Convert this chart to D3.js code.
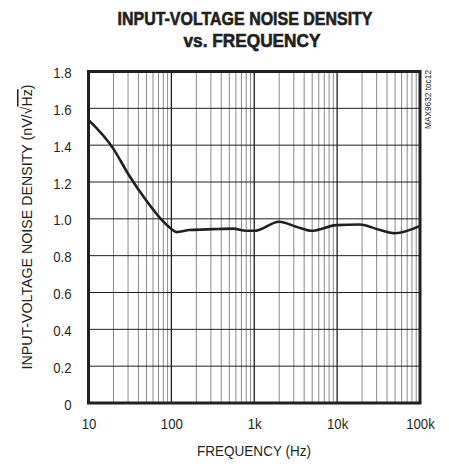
<!DOCTYPE html>
<html>
<head>
<meta charset="utf-8">
<script src="https://cdn.jsdelivr.net/npm/d3@7"></script>
<style>
  html, body { margin: 0; padding: 0; background: #fff; }
  svg text { font-family: "Liberation Sans", Arial, sans-serif; fill: #231f20; }
</style>
</head>
<body>
<div id="chart"></div>
<script>
// noise density curve
const freq  = [10, 20, 30, 50, 75, 100, 115, 166, 320, 555, 800, 1000, 2000, 3200, 4900, 9800, 18700, 33000, 50000, 100000];
const noise = [1.537, 1.38, 1.245, 1.098, 0.998, 0.945, 0.928, 0.939, 0.944, 0.947, 0.935, 0.935, 0.984, 0.957, 0.935, 0.966, 0.969, 0.939, 0.922, 0.962];
const xTicks = [10, 100, 1000, 10000, 100000];
const xTickLabels = ['10', '100', '1k', '10k', '100k'];
const yTicks = [0, 0.2, 0.4, 0.6, 0.8, 1.0, 1.2, 1.4, 1.6, 1.8];

const chart = {};
chart.width_svg = 449;
chart.height_svg = 466;
chart.margin = {top: 71.5, right: 29, bottom: 63, left: 88.5};
chart.ink = '#231f20';

// squeeze a text element horizontally so it looks like a condensed face
function narrow(sel, k){
  sel.each(function(){
    let w = this.getComputedTextLength();
    d3.select(this).attr('textLength', w * k).attr('lengthAdjust', 'spacingAndGlyphs');
  });
}

chart.draw = function(){
  let margin = this.margin, W = this.width_svg, H = this.height_svg, ink = this.ink;
  let svg = d3.select('#chart').append('svg')
              .attr('width', W)
              .attr('height', H);
  let xScale = d3.scaleLog()
                .domain([10, 100000])
                .range([margin.left, W - margin.right]);
  let yScale = d3.scaleLinear()
                .domain([0, 1.8])
                .range([H - margin.bottom, margin.top]);

  // title
  svg.append('text')
    .attr('x', 245).attr('y', 25)
    .attr('text-anchor', 'middle')
    .attr('font-size', 18).attr('font-weight', 'bold')
    .attr('stroke', ink).attr('stroke-width', 0.6)
    .attr('textLength', 255).attr('lengthAdjust', 'spacingAndGlyphs')
    .text('INPUT-VOLTAGE NOISE DENSITY');
  svg.append('text')
    .attr('x', 252).attr('y', 47)
    .attr('text-anchor', 'middle')
    .attr('font-size', 18).attr('font-weight', 'bold')
    .attr('stroke', ink).attr('stroke-width', 0.6)
    .attr('textLength', 137).attr('lengthAdjust', 'spacingAndGlyphs')
    .text('vs. FREQUENCY');

  // minor vertical grid
  let minor = [];
  xTicks.slice(0, -1).forEach(d => { for(let k = 2; k <= 9; k++) minor.push(d * k); });
  svg.append('g').selectAll('line')
    .data(minor).enter().append('line')
    .attr('x1', d => xScale(d)).attr('x2', d => xScale(d))
    .attr('y1', yScale(0)).attr('y2', yScale(1.8))
    .attr('stroke', '#8a8a8a').attr('stroke-width', 1);
  // decade lines
  svg.append('g').selectAll('line')
    .data(xTicks).enter().append('line')
    .attr('x1', d => xScale(d)).attr('x2', d => xScale(d))
    .attr('y1', yScale(0)).attr('y2', yScale(1.8))
    .attr('stroke', ink).attr('stroke-width', 1.3);
  // horizontal grid
  svg.append('g').selectAll('line')
    .data(yTicks).enter().append('line')
    .attr('x1', xScale(10)).attr('x2', xScale(100000))
    .attr('y1', d => yScale(d)).attr('y2', d => yScale(d))
    .attr('stroke', ink).attr('stroke-width', 1);

  // curve
  let line = d3.line()
              .x((d, i) => xScale(freq[i]))
              .y(d => yScale(d))
              .curve(d3.curveMonotoneX);
  svg.append('path')
    .attr('d', line(noise))
    .attr('fill', 'none')
    .attr('stroke', ink)
    .attr('stroke-width', 2.6)
    .attr('stroke-linejoin', 'round');

  // frame
  svg.append('rect')
    .attr('x', xScale(10)).attr('y', yScale(1.8))
    .attr('width', xScale(100000) - xScale(10))
    .attr('height', yScale(0) - yScale(1.8))
    .attr('fill', 'none').attr('stroke', ink).attr('stroke-width', 3);

  // axes labels
  let xAxis = g => g.attr('transform', `translate(0, ${yScale(0)})`)
                  .call(d3.axisBottom(xScale).tickValues(xTicks)
                          .tickFormat((d, i) => xTickLabels[i]).tickSize(0).tickPadding(15))
                  .call(g => g.select('.domain').remove())
                  .call(g => g.selectAll('.tick text')
                              .attr('font-size', 15).attr('fill', ink)
                              .attr('font-family', null)
                              .call(narrow, 0.88));
  let yAxis = g => g.attr('transform', `translate(${margin.left}, 0)`)
                  .call(d3.axisLeft(yScale).tickValues(yTicks)
                          .tickFormat(d => d === 0 ? '0' : d3.format('.1f')(d)).tickSize(0).tickPadding(17))
                  .call(g => g.select('.domain').remove())
                  .call(g => g.selectAll('.tick text')
                              .attr('font-size', 15).attr('fill', ink)
                              .attr('font-family', null)
                              .attr('dy', '0.4em')
                              .call(narrow, 0.88));
  svg.append('g').call(xAxis);
  svg.append('g').call(yAxis);

  svg.append('text')
    .attr('x', 254).attr('y', 456)
    .attr('text-anchor', 'middle')
    .attr('font-size', 15)
    .attr('textLength', 114).attr('lengthAdjust', 'spacingAndGlyphs')
    .text('FREQUENCY (Hz)');

  let yLabel = svg.append('text')
    .attr('transform', `translate(32, 227) rotate(-90)`)
    .attr('text-anchor', 'middle')
    .attr('font-size', 15)
    .attr('textLength', 285).attr('lengthAdjust', 'spacingAndGlyphs');
  yLabel.append('tspan').text('INPUT-VOLTAGE NOISE DENSITY (nV/√');
  yLabel.append('tspan').style('text-decoration', 'overline').text('Hz');
  yLabel.append('tspan').text(')');

  // side note
  svg.append('text')
    .attr('transform', `translate(431, 99.5) rotate(-90)`)
    .attr('text-anchor', 'middle')
    .attr('font-size', 9.5)
    .attr('fill', '#555')
    .attr('textLength', 59).attr('lengthAdjust', 'spacingAndGlyphs')
    .text('MAX9632 toc12');
};

chart.draw();
</script>
</body>
</html>
